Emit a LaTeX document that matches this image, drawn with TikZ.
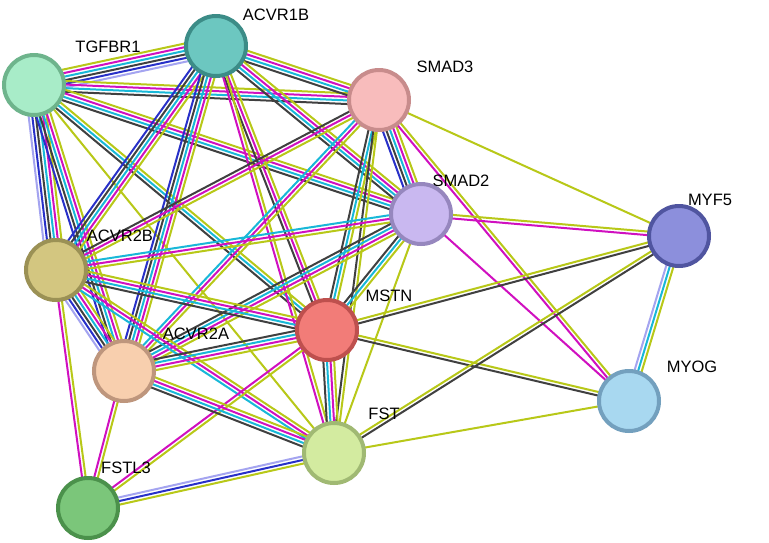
\documentclass[tikz,border=0pt]{standalone}
\usepackage{fontspec}
\setmainfont{Liberation Sans}
\usetikzlibrary{calc}
\definecolor{cLP}{HTML}{A4A4F0}
\definecolor{cBL}{HTML}{2830C8}
\definecolor{cBK}{HTML}{404040}
\definecolor{cCY}{HTML}{18B8D8}
\definecolor{cMG}{HTML}{D010C0}
\definecolor{cOL}{HTML}{B8C818}
\newcommand\mkedge[4]{%
  \foreach \cc [count=\ii] in {#4} {%
    \pgfmathsetmacro\off{(\ii-(#3+1)/2)*3.6}%
    \draw[\cc, line width=2pt] ($(#1)!\off pt!90:(#2)$) -- ($(#2)!\off pt!-90:(#1)$);
  }}
\tikzset{prot/.style={circle, minimum size=60pt, line width=4pt, inner sep=0pt},
 lab/.style={font=\fontsize{16.5}{16.5}\selectfont, text=black}}
\begin{document}
\begin{tikzpicture}[x=1pt,y=-1pt]
\useasboundingbox (0,0) rectangle (769,542);
\fill[white] (0,0) rectangle (769,542);
\coordinate (TGFBR1) at (34,85);
\coordinate (ACVR1B) at (216,46);
\coordinate (SMAD3) at (379,100);
\coordinate (SMAD2) at (421,214);
\coordinate (MYF5) at (679,236);
\coordinate (ACVR2B) at (56,270);
\coordinate (MSTN) at (327,330);
\coordinate (ACVR2A) at (124,371);
\coordinate (MYOG) at (629,401);
\coordinate (FST) at (334,453);
\coordinate (FSTL3) at (88,508);
\mkedge{TGFBR1}{ACVR1B}{6}{cLP,cBL,cBK,cCY,cMG,cOL}
\mkedge{TGFBR1}{SMAD3}{4}{cBK,cCY,cMG,cOL}
\mkedge{TGFBR1}{SMAD2}{4}{cBK,cCY,cMG,cOL}
\mkedge{TGFBR1}{ACVR2B}{6}{cLP,cBL,cBK,cCY,cMG,cOL}
\mkedge{TGFBR1}{ACVR2A}{5}{cBL,cBK,cCY,cMG,cOL}
\mkedge{TGFBR1}{MSTN}{3}{cBK,cCY,cOL}
\mkedge{TGFBR1}{FST}{1}{cOL}
\mkedge{ACVR1B}{SMAD3}{4}{cBK,cCY,cMG,cOL}
\mkedge{ACVR1B}{SMAD2}{4}{cBK,cCY,cMG,cOL}
\mkedge{ACVR1B}{ACVR2B}{5}{cBL,cBK,cCY,cMG,cOL}
\mkedge{ACVR1B}{ACVR2A}{5}{cBL,cBK,cCY,cMG,cOL}
\mkedge{ACVR1B}{MSTN}{3}{cBK,cMG,cOL}
\mkedge{ACVR1B}{FST}{2}{cMG,cOL}
\mkedge{SMAD3}{SMAD2}{5}{cBL,cBK,cCY,cMG,cOL}
\mkedge{SMAD3}{ACVR2B}{3}{cBK,cMG,cOL}
\mkedge{SMAD3}{ACVR2A}{3}{cCY,cMG,cOL}
\mkedge{SMAD3}{MSTN}{3}{cBK,cCY,cOL}
\mkedge{SMAD3}{FST}{2}{cBK,cOL}
\mkedge{SMAD3}{MYF5}{1}{cOL}
\mkedge{SMAD3}{MYOG}{2}{cMG,cOL}
\mkedge{SMAD2}{ACVR2B}{3}{cCY,cMG,cOL}
\mkedge{SMAD2}{ACVR2A}{4}{cBK,cCY,cMG,cOL}
\mkedge{SMAD2}{MSTN}{3}{cBK,cCY,cOL}
\mkedge{SMAD2}{MYF5}{2}{cMG,cOL}
\mkedge{SMAD2}{MYOG}{1}{cMG}
\mkedge{SMAD2}{FST}{1}{cOL}
\mkedge{ACVR2B}{MSTN}{4}{cBK,cCY,cMG,cOL}
\mkedge{ACVR2B}{ACVR2A}{6}{cLP,cBL,cBK,cCY,cMG,cOL}
\mkedge{ACVR2B}{FST}{3}{cCY,cMG,cOL}
\mkedge{ACVR2B}{FSTL3}{2}{cMG,cOL}
\mkedge{MSTN}{ACVR2A}{4}{cBK,cCY,cMG,cOL}
\mkedge{MSTN}{FST}{4}{cBK,cCY,cMG,cOL}
\mkedge{MSTN}{FSTL3}{2}{cMG,cOL}
\mkedge{MSTN}{MYF5}{2}{cBK,cOL}
\mkedge{MSTN}{MYOG}{2}{cBK,cOL}
\mkedge{ACVR2A}{FST}{4}{cBK,cCY,cMG,cOL}
\mkedge{ACVR2A}{FSTL3}{2}{cMG,cOL}
\mkedge{FST}{FSTL3}{3}{cLP,cBL,cOL}
\mkedge{FST}{MYF5}{2}{cBK,cOL}
\mkedge{FST}{MYOG}{1}{cOL}
\mkedge{MYF5}{MYOG}{3}{cLP,cCY,cOL}
\node[prot, fill={rgb,255:red,168;green,236;blue,200}, draw={rgb,255:red,110;green,180;blue,140}] (nTGFBR1) at (TGFBR1) {};
\node[prot, fill={rgb,255:red,108;green,199;blue,192}, draw={rgb,255:red,60;green,140;blue,135}] (nACVR1B) at (ACVR1B) {};
\node[prot, fill={rgb,255:red,248;green,188;blue,188}, draw={rgb,255:red,200;green,140;blue,140}] (nSMAD3) at (SMAD3) {};
\node[prot, fill={rgb,255:red,201;green,184;blue,240}, draw={rgb,255:red,150;green,135;blue,190}] (nSMAD2) at (SMAD2) {};
\node[prot, fill={rgb,255:red,140;green,143;blue,220}, draw={rgb,255:red,80;green,85;blue,160}] (nMYF5) at (MYF5) {};
\node[prot, fill={rgb,255:red,211;green,198;blue,128}, draw={rgb,255:red,155;green,145;blue,85}] (nACVR2B) at (ACVR2B) {};
\node[prot, fill={rgb,255:red,242;green,124;blue,120}, draw={rgb,255:red,190;green,80;blue,78}] (nMSTN) at (MSTN) {};
\node[prot, fill={rgb,255:red,248;green,207;blue,174}, draw={rgb,255:red,190;green,150;blue,125}] (nACVR2A) at (ACVR2A) {};
\node[prot, fill={rgb,255:red,168;green,216;blue,240}, draw={rgb,255:red,115;green,160;blue,190}] (nMYOG) at (MYOG) {};
\node[prot, fill={rgb,255:red,211;green,235;blue,160}, draw={rgb,255:red,160;green,185;blue,115}] (nFST) at (FST) {};
\node[prot, fill={rgb,255:red,123;green,198;blue,122}, draw={rgb,255:red,75;green,145;blue,75}] (nFSTL3) at (FSTL3) {};
\node[lab] (lTGFBR1) at (108,47) {TGFBR1};
\node[lab] (lACVR1B) at (276,15) {ACVR1B};
\node[lab] (lSMAD3) at (445,67) {SMAD3};
\node[lab] (lSMAD2) at (461,181) {SMAD2};
\node[lab] (lMYF5) at (710,200) {MYF5};
\node[lab] (lACVR2B) at (120,236) {ACVR2B};
\node[lab] (lMSTN) at (389,296) {MSTN};
\node[lab] (lACVR2A) at (196,334) {ACVR2A};
\node[lab] (lMYOG) at (692,367) {MYOG};
\node[lab] (lFST) at (384,414) {FST};
\node[lab] (lFSTL3) at (126,468) {FSTL3};
\end{tikzpicture}
\end{document}
